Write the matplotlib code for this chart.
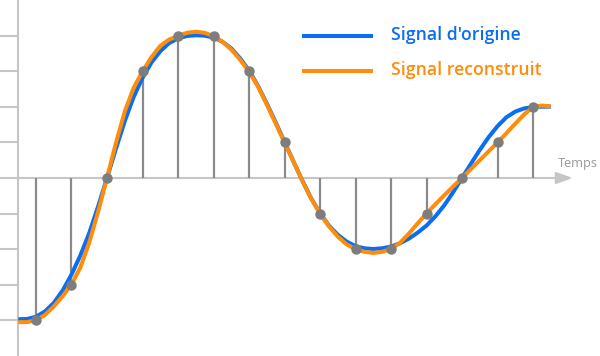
import numpy as np
import matplotlib.pyplot as plt

# samples taken from the signal (one per time step)
sample_values = [-4, -3, 0, 3, 4, 4, 3, 1, -1, -2, -2, -1, 0, 1, 2]

# curves read at quarter steps, from t = -0.5 to t = 14.5
curve_t = np.arange(-0.5, 14.51, 0.25)
original = [-3.98, -3.97, -3.91, -3.76, -3.52, -3.17, -2.72, -2.18, -1.55, -0.80,
            0.00, 0.82, 1.60, 2.28, 2.82, 3.25, 3.57, 3.80, 3.93, 4.00,
            4.02, 4.01, 3.96, 3.84, 3.65, 3.37, 3.03, 2.60, 2.10, 1.57,
            1.02, 0.47, -0.07, -0.57, -0.99, -1.34, -1.60, -1.79, -1.92, -1.98,
            -2.00, -1.98, -1.93, -1.84, -1.71, -1.54, -1.34, -1.08, -0.77, -0.40,
            0.00, 0.40, 0.79, 1.15, 1.46, 1.71, 1.87, 1.96, 2.00, 2.01, 2.01]
reconstructed = [-4.06, -4.06, -4.00, -3.86, -3.62, -3.33, -3.00, -2.52, -1.82, -0.95,
                 0.00, 0.98, 1.87, 2.54, 3.00, 3.40, 3.72, 3.90, 4.00, 4.09,
                 4.12, 4.09, 4.00, 3.84, 3.62, 3.33, 3.00, 2.58, 2.07, 1.54,
                 1.00, 0.47, -0.07, -0.58, -1.00, -1.36, -1.65, -1.87, -2.00, -2.08,
                 -2.11, -2.08, -2.00, -1.83, -1.57, -1.28, -1.00, -0.74, -0.49, -0.24,
                 0.00, 0.25, 0.50, 0.75, 1.00, 1.26, 1.53, 1.79, 2.00, 2.04, 2.02]

y_ticks = [-4, -3, -2, -1, 1, 2, 3, 4]
labels = ["Signal d'origine", "Signal reconstruit"]

BLUE = "#0a6ef2"
ORANGE = "#ff8c0a"
AXIS = "#c6c6c6"
STEM = "#8a8a8a"
DOT = "#7d7d7d"

plt.rcParams['font.family'] = ['Open Sans', 'DejaVu Sans']

fig = plt.figure(figsize=(6, 3.56), dpi=100)
ax = fig.add_axes([0, 0, 1, 1])
x0, x1 = -1.014, 15.887
y0, y1 = -5.014, 5.014
ax.set_xlim(x0, x1)
ax.set_ylim(y0, y1)
ax.axis('off')

# axes: vertical line, ticks, time arrow
ax.plot([-0.5, -0.5], [y0, y1], color=AXIS, lw=1.5, zorder=1)
ax.hlines(y_ticks, x0, -0.5, color=AXIS, lw=1.5, zorder=1)
ax.plot([x0, -0.5], [0, 0], color=AXIS, lw=1.5, zorder=1)
ax.annotate('', xy=(15.12, 0), xytext=(-0.5, 0),
            arrowprops=dict(arrowstyle='-|>,head_length=1.0,head_width=0.36',
                            mutation_scale=10, color=AXIS, lw=1.5,
                            shrinkA=0, shrinkB=0), zorder=1)
ax.text(14.7, 0.32, "Temps", color="#999999", fontsize=9.2,
        ha='left', va='baseline')

# stems
sample_t = np.arange(len(sample_values))
ax.vlines(sample_t, 0, sample_values, color=STEM, lw=1.6, zorder=2)

# curves
ax.plot(curve_t, original, color=BLUE, lw=2.9, solid_capstyle='butt', zorder=3)
ax.plot(curve_t, reconstructed, color=ORANGE, lw=2.9, solid_capstyle='butt', zorder=4)
ax.plot(sample_t, sample_values, 'o', ms=6.5, color=DOT, zorder=5)

# legend drawn by hand
for lab, col, yy in zip(labels, [BLUE, ORANGE], [4, 3]):
    ax.plot([7.49, 9.49], [yy, yy], color=col, lw=2.9, solid_capstyle='butt')
    ax.text(10.0, yy - 0.1, lab, color=col, fontsize=12.7, fontweight='semibold',
            ha='left', va='baseline')

fig.savefig("out.png", dpi=100)
